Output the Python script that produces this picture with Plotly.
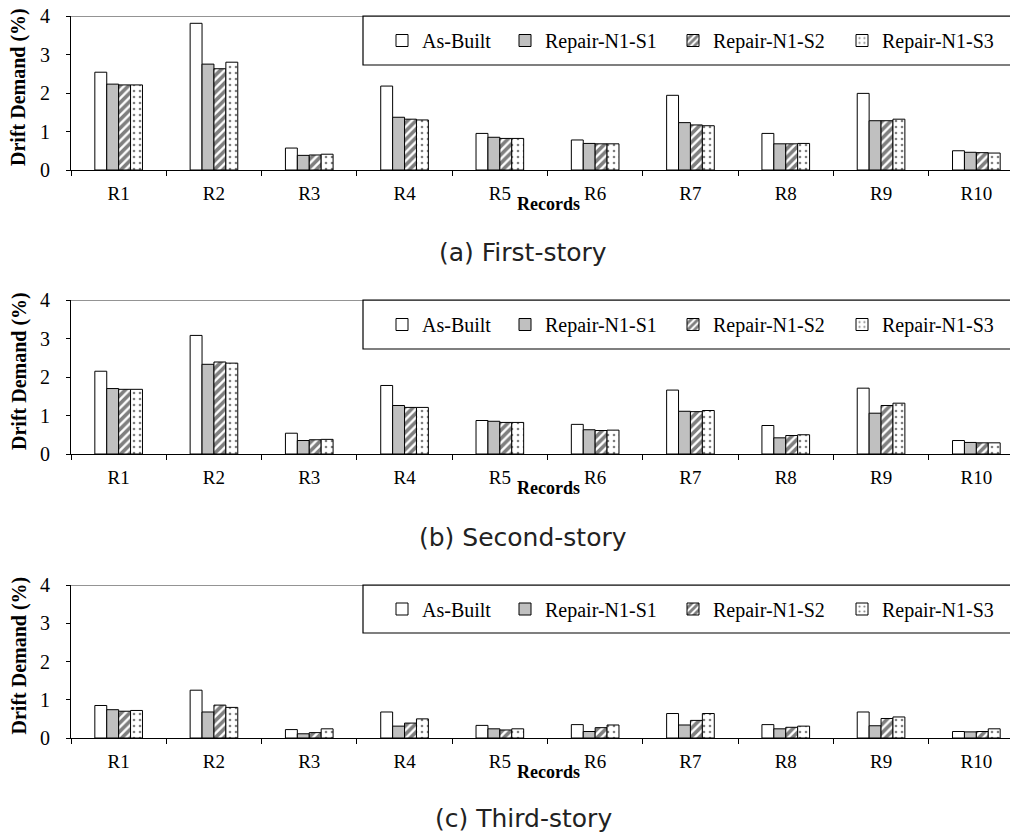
import plotly.graph_objects as go

records = ["R1", "R2", "R3", "R4", "R5", "R6", "R7", "R8", "R9", "R10"]
series_names = ["As-Built", "Repair-N1-S1", "Repair-N1-S2", "Repair-N1-S3"]
captions = ["(a) First-story", "(b) Second-story", "(c) Third-story"]
y_ticks = [0, 1, 2, 3, 4]

# (a) First-story
first_as_built = [2.54, 3.81, 0.57, 2.18, 0.95, 0.78, 1.94, 0.95, 1.99, 0.50]
first_s1 = [2.23, 2.75, 0.38, 1.37, 0.85, 0.69, 1.23, 0.68, 1.28, 0.46]
first_s2 = [2.21, 2.63, 0.39, 1.32, 0.82, 0.68, 1.17, 0.68, 1.28, 0.45]
first_s3 = [2.21, 2.80, 0.41, 1.30, 0.82, 0.68, 1.15, 0.69, 1.32, 0.44]

# (b) Second-story
second_as_built = [2.15, 3.08, 0.54, 1.78, 0.87, 0.77, 1.66, 0.74, 1.71, 0.35]
second_s1 = [1.70, 2.33, 0.35, 1.26, 0.85, 0.63, 1.11, 0.42, 1.06, 0.30]
second_s2 = [1.68, 2.39, 0.37, 1.21, 0.82, 0.61, 1.10, 0.48, 1.26, 0.29]
second_s3 = [1.68, 2.36, 0.38, 1.21, 0.82, 0.62, 1.13, 0.50, 1.32, 0.29]

# (c) Third-story
third_as_built = [0.85, 1.25, 0.22, 0.68, 0.33, 0.35, 0.64, 0.35, 0.68, 0.17]
third_s1 = [0.74, 0.68, 0.11, 0.31, 0.24, 0.17, 0.34, 0.24, 0.32, 0.16]
third_s2 = [0.70, 0.86, 0.14, 0.39, 0.21, 0.27, 0.46, 0.28, 0.51, 0.17]
third_s3 = [0.72, 0.80, 0.24, 0.50, 0.24, 0.34, 0.64, 0.31, 0.55, 0.24]

panels = [
    [first_as_built, first_s1, first_s2, first_s3],
    [second_as_built, second_s1, second_s2, second_s3],
    [third_as_built, third_s1, third_s2, third_s3],
]

# page offset of the figure (browser body margin)
OFF = 8
W, H = 1018 - OFF, 835 - OFF
AXIS_X = 71            # page pixel of the y axis
ML = AXIS_X - OFF
PW = W - ML
CAT_W = 95.3

# page-pixel layout of each panel: (top, bottom) of plot area
panel_px = [(16, 170), (300, 454), (585, 738)]
caption_px = [252, 537, 818]
legend_box_px = [(16, 65), (300, 349), (585, 633)]
legend_left_px = [382, 505, 673, 842]

SERIF = "Liberation Serif, Times New Roman, serif"


def px_x(px):
    return (px - OFF - ML) / PW


def px_y(py):
    return 1 - (py - OFF) / H


def marker_for(s):
    if s == 0:
        return dict(color="white", line=dict(color="black", width=1))
    if s == 1:
        return dict(color="#c0c0c0", line=dict(color="black", width=1))
    if s == 2:
        return dict(color="white", line=dict(color="black", width=1),
                    pattern=dict(shape="/", fgcolor="black", bgcolor="white",
                                 size=6, solidity=0.6))
    return dict(color="white", line=dict(color="black", width=1),
                pattern=dict(shape=".", fgcolor="black", bgcolor="white",
                             size=6, solidity=0.15))


fig = go.Figure()
layout = dict(
    width=W, height=H,
    margin=dict(l=ML, r=0, t=0, b=0, autoexpand=False),
    paper_bgcolor="white", plot_bgcolor="white",
    barmode="group", bargap=0.5, bargroupgap=0,
    font=dict(family=SERIF, size=19, color="black"),
)
shapes = []
annotations = []

x_max = -0.5 + PW / CAT_W

for p in range(3):
    ax = "" if p == 0 else str(p + 1)
    top, bot = panel_px[p]
    for s in range(4):
        k = p * 4 + s + 1
        lg = "legend" if k == 1 else f"legend{k}"
        fig.add_trace(go.Bar(
            x=records, y=panels[p][s], name=series_names[s],
            marker=marker_for(s), xaxis="x" + ax, yaxis="y" + ax,
            legend=lg, showlegend=True,
        ))
        lb_top, lb_bot = legend_box_px[p]
        layout[lg] = dict(
            x=px_x(legend_left_px[s]), xanchor="left",
            y=px_y((lb_top + lb_bot) / 2), yanchor="middle",
            orientation="h", bgcolor="rgba(0,0,0,0)", borderwidth=0,
            font=dict(family=SERIF, size=20, color="black"),
        )
    layout["xaxis" + ax] = dict(
        domain=[0, 1], anchor="y" + ax, range=[-0.5, x_max],
        showline=True, linecolor="black", linewidth=1,
        ticks="outside", ticklen=5, tickcolor="black", tickson="boundaries",
        ticklabelstandoff=6, showgrid=False, zeroline=False,
        ticklabeloverflow="allow",
        tickfont=dict(family=SERIF, size=19), automargin=False,
    )
    layout["yaxis" + ax] = dict(
        domain=[px_y(bot), px_y(top)], anchor="x" + ax, range=[0, 4],
        tickvals=y_ticks, showline=True, linecolor="black", linewidth=1,
        ticks="outside", ticklen=4, tickcolor="black", ticklabelstandoff=12,
        showgrid=False, zeroline=False, automargin=False,
        ticklabeloverflow="allow",
        tickfont=dict(family=SERIF, size=20),
    )
    # top border of plot area
    shapes.append(dict(type="line", xref="x" + ax + " domain", yref="y" + ax,
                       x0=0, x1=1, y0=4, y1=4,
                       line=dict(color="#707070", width=1.5)))
    # legend box
    lb_top, lb_bot = legend_box_px[p]
    shapes.append(dict(type="rect", xref="paper", yref="paper",
                       x0=px_x(363), x1=1.05, y0=px_y(lb_bot), y1=px_y(lb_top),
                       line=dict(color="black", width=1.2),
                       fillcolor="rgba(0,0,0,0)"))
    # y-axis title
    annotations.append(dict(
        text="<b>Drift Demand (%)</b>", xref="paper", yref="paper",
        x=px_x(19), y=px_y((top + bot) / 2 - 6), textangle=-90,
        showarrow=False, xanchor="center", yanchor="middle",
        font=dict(family=SERIF, size=20, color="black")))
    # x-axis title
    annotations.append(dict(
        text="<b>Records</b>", xref="paper", yref="paper",
        x=px_x(548), y=px_y(bot + 34), showarrow=False,
        xanchor="center", yanchor="middle",
        font=dict(family=SERIF, size=18, color="black")))
    # caption
    annotations.append(dict(
        text=captions[p], xref="paper", yref="paper",
        x=px_x(523), y=px_y(caption_px[p]), showarrow=False,
        xanchor="center", yanchor="middle",
        font=dict(family="DejaVu Sans", size=25, color="#222222")))

layout["shapes"] = shapes
layout["annotations"] = annotations
fig.update_layout(**layout)
fig.write_html("out.html")
